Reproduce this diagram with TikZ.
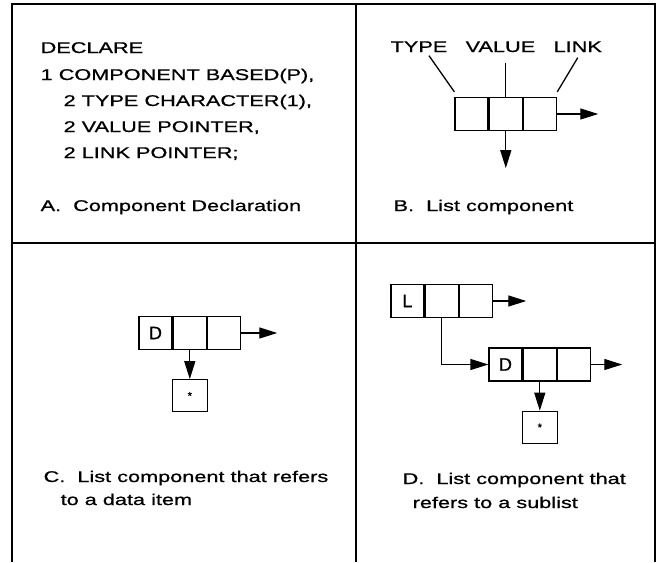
\documentclass[tikz,border=0pt]{standalone}
\usepackage{fontspec}
\setmainfont[FakeStretch=1.4,FakeBold=0.8]{Liberation Sans}
\newfontfamily\cellfont[FakeBold=0.8]{Liberation Sans}
\usetikzlibrary{arrows.meta,positioning,calc}

\begin{document}
\begin{tikzpicture}[x=1pt,y=-1pt,line width=1.3pt,
  cell/.style={draw,minimum width=33pt,minimum height=33pt,inner sep=0pt,font=\cellfont\fontsize{18}{20}\selectfont},
  datum/.style={draw,minimum width=35pt,minimum height=32pt,inner sep=0pt,font=\cellfont\fontsize{11}{12}\selectfont},
  ptr/.style={-{Triangle[length=18pt,width=11pt]}},
  txt/.style={anchor=base west,inner sep=0pt,font=\fontsize{15.5}{18}\selectfont}]
 \useasboundingbox (0,0) rectangle (661,562);

 % frame and quarters (bottom edge runs off the page)
 \draw (12,562) -- (12,4) -- (655,4) -- (655,562);
 \draw (12,243) -- (655,243);
 \draw (356,4) -- (356,562);

 % A: the declaration
 \node [txt] (decl1) at (40,53)  {DECLARE};
 \node [txt] (decl2) at (40,80)  {1 COMPONENT BASED(P),};
 \node [txt] (decl3) at (63,106) {2 TYPE CHARACTER(1),};
 \node [txt] (decl4) at (63,132) {2 VALUE POINTER,};
 \node [txt] (decl5) at (63,158) {2 LINK POINTER;};
 \node [txt] (capA) at (40,211) {A.\ \ Component Declaration};

 % B: one component and its fields
 \node [txt] (typeLbl)  at (390,52) {TYPE};
 \node [txt] (valueLbl) at (465,52) {VALUE};
 \node [txt] (linkLbl)  at (553,52) {LINK};
 \node [cell] (bType) at (471.5,114) {};
 \node [cell, right=0pt of bType] (bValue) {};
 \node [cell, right=0pt of bValue] (bLink) {};
 \draw ([xshift=10pt,yshift=-3pt]typeLbl.south) -- ([yshift=5pt]bType.north west);
 \draw ($(bValue.north)+(0,-34)$) -- (bValue.north);
 \draw ([yshift=-5pt]linkLbl.south) -- ([yshift=5pt]bLink.north east);
 \coordinate [right=41pt of bLink] (bNext);
 \coordinate [below=37pt of bValue] (bDown);
 \draw [ptr] (bLink.east) -- (bNext);
 \draw [ptr] (bValue.south) -- (bDown);
 \node [txt] (capB) at (393,211) {B.\ \ List component};

 % C: component pointing at a data item
 \node [cell] (cType) at (155.5,333) {D};
 \node [cell, right=0pt of cType] (cValue) {};
 \node [cell, right=0pt of cValue] (cLink) {};
 \node [datum, below=29pt of cValue] (cItem) {*};
 \coordinate [right=36pt of cLink] (cNext);
 \draw [ptr] (cLink.east) -- (cNext);
 \draw [ptr] (cValue.south) -- (cItem.north);
 \node [txt] (capC1) at (43,482) {C.\ \ List component that refers};
 \node [txt] (capC2) at (60,505) {to a data item};

 % D: component pointing at a sublist
 \node [cell] (dType) at (407.5,301) {L};
 \node [cell, right=0pt of dType] (dValue) {};
 \node [cell, right=0pt of dValue] (dLink) {};
 \node [cell] (sType) at (505.5,364.5) {D};
 \node [cell, right=0pt of sType] (sValue) {};
 \node [cell, right=0pt of sValue] (sLink) {};
 \node [datum, below=29pt of sValue] (sItem) {*};
 \coordinate [right=33pt of dLink] (dNext);
 \coordinate [right=31pt of sLink] (sNext);
 \draw [ptr] (dLink.east) -- (dNext);
 \draw [ptr] (dValue.south) |- (sType.west);
 \draw [ptr] (sLink.east) -- (sNext);
 \draw [ptr] (sValue.south) -- (sItem.north);
 \node [txt] (capD1) at (402,484) {D.\ \ List component that};
 \node [txt] (capD2) at (412,508) {refers to a sublist};
\end{tikzpicture}
\end{document}
